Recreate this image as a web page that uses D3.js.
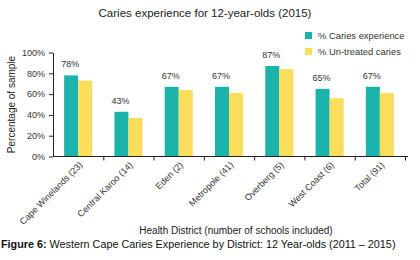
<!DOCTYPE html>
<html>
<head>
<meta charset="utf-8">
<script src="https://cdn.jsdelivr.net/npm/d3@7"></script>
<style>
  body { margin: 0; background: #fff; }
  svg { display: block; font-family: "Liberation Sans", Arial, sans-serif; }
  .axis path, .axis line { stroke: #222; }
</style>
</head>
<body>
<div id="chart"></div>
<script>
const districts = ['Cape Winelands (23)', 'Central Karoo (14)', 'Eden (2)', 'Metropole (41)',
    'Overberg (5)', 'West Coast (6)', 'Total (91)'];
const cariesExperience = [78, 43, 67, 67, 87, 65, 67];
const untreatedCaries = [73, 37, 64, 61, 84, 56, 61];
const seriesNames = ['% Caries experience', '% Un-treated caries'];
const yTicks = [0, 20, 40, 60, 80, 100];

const width = 420, height = 260;
const plotLeft = 53, plotRight = 405, plotTop = 52.5, plotBottom = 156.5;
const colors = ['#1bb3ab', '#f9dd5b'];

const svg = d3.select('#chart').append('svg')
    .attr('width', width).attr('height', height);

const scaleX = d3.scaleBand(districts, [plotLeft, plotRight]);
const scaleSub = d3.scaleBand([0, 1], [0, 28]);
const scaleY = d3.scaleLinear([0, 100], [plotBottom, plotTop]);

// title
svg.append('text')
    .attr('x', 205).attr('y', 17)
    .attr('text-anchor', 'middle')
    .style('font-size', '11.5px').attr('fill', '#222')
    .text('Caries experience for 12-year-olds (2015)');

// bars
const rows = districts.map((d, i) => ({ d, v: [cariesExperience[i], untreatedCaries[i]] }));
const groups = svg.append('g').selectAll('g').data(rows).join('g')
    .attr('transform', r => `translate(${scaleX(r.d) + scaleX.bandwidth() / 2 - 14},0)`);
groups.selectAll('rect').data(r => r.v.map((v, k) => ({ v, k }))).join('rect')
    .attr('x', b => scaleSub(b.k))
    .attr('width', scaleSub.bandwidth())
    .attr('y', b => scaleY(b.v))
    .attr('height', b => scaleY(0) - scaleY(b.v))
    .attr('fill', b => colors[b.k]);

// value labels for caries experience
groups.append('text')
    .attr('x', scaleSub(0) + scaleSub.bandwidth() / 2 - 1)
    .attr('y', r => scaleY(r.v[0]) - 8)
    .attr('text-anchor', 'middle')
    .style('font-size', '9px').attr('fill', '#333')
    .text(r => r.v[0] + '%');

// y axis
const axisY = svg.append('g').attr('class', 'axis')
    .attr('transform', `translate(${plotLeft},0)`)
    .call(d3.axisLeft(scaleY).tickValues(yTicks).tickFormat(d => d + '%').tickSize(4).tickSizeOuter(0));
axisY.selectAll('text').style('font-size', '9px').attr('fill', '#333').attr('x', -8);

// x axis with ticks at band boundaries
const boundaries = d3.scaleLinear([0, districts.length], [plotLeft, plotRight]);
const axisX = svg.append('g').attr('class', 'axis')
    .attr('transform', `translate(0,${plotBottom})`)
    .call(d3.axisBottom(boundaries).tickValues(d3.range(1, districts.length + 1))
        .tickFormat('').tickSize(4).tickSizeOuter(0));
axisX.select('path').attr('d', `M${plotLeft},0H${plotRight + 3}`);

svg.append('g').selectAll('text').data(districts).join('text')
    .attr('transform', d => `translate(${scaleX(d) + scaleX.bandwidth() / 2 + 5},${plotBottom + 9})rotate(-45)`)
    .attr('text-anchor', 'end')
    .style('font-size', '9px').attr('fill', '#333')
    .text(d => d);

// axis titles
svg.append('text')
    .attr('x', 236).attr('y', 234)
    .attr('text-anchor', 'middle')
    .style('font-size', '10px').attr('fill', '#222')
    .text('Health District (number of schools included)');
svg.append('text')
    .attr('transform', `translate(15,${(plotTop + plotBottom) / 2})rotate(-90)`)
    .attr('text-anchor', 'middle')
    .style('font-size', '10px').attr('fill', '#222')
    .text('Percentage of sample');

// legend
const legend = svg.append('g').attr('transform', 'translate(305,32)');
const items = legend.selectAll('g').data(seriesNames).join('g')
    .attr('transform', (d, i) => `translate(0,${i * 16})`);
items.append('rect').attr('width', 7).attr('height', 7).attr('fill', (d, i) => colors[i]);
items.append('text').attr('x', 13).attr('y', 7)
    .style('font-size', '9.4px').attr('fill', '#333').text(d => d);

// caption
const caption = svg.append('text').attr('x', 1).attr('y', 248)
    .style('font-size', '10.8px').attr('fill', '#111');
caption.append('tspan').style('font-weight', 'bold').text('Figure 6:');
caption.append('tspan').text(' Western Cape Caries Experience by District: 12 Year-olds (2011 \u2013 2015)');
</script>
</body>
</html>
